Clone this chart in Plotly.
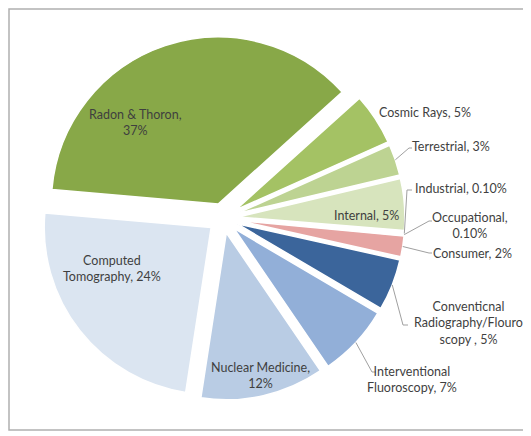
import math
import plotly.graph_objects as go

labels = ["Radon & Thoron", "Cosmic Rays", "Terrestrial", "Internal", "Industrial",
          "Occupational", "Consumer", "Conventional Radiography/Flouroscopy ",
          "Interventional Fluoroscopy", "Nuclear Medicine", "Computed Tomography"]
values = [37, 5, 3, 5, 0.1, 0.1, 2, 5, 7, 12, 24]
display = ["Radon & Thoron,<br>37%", "Cosmic Rays, 5%", "Terrestrial, 3%", "Internal, 5%",
           "Industrial, 0.10%", "Occupational,<br>0.10%", "Consumer, 2%",
           "Conventicnal<br>Radiography/Flouro<br>scopy , 5%",
           "Interventional<br>Fluoroscopy, 7%", "Nuclear Medicine,<br>12%",
           "Computed<br>Tomography, 24%"]

# ---- style / layout ----
W, H = 531, 436
OFF = 8  # page body margin: screen px -> figure px
colors = ["#88a848", "#a4c264", "#bdd392", "#d7e4bd", "#e9efdc", "#f2dcdb",
          "#e6a4a2", "#3b659b", "#92afd8", "#b9cce4", "#dbe5f1"]
PULL = 0.09
ROT = -85  # plotly rotation (deg, clockwise from 12 o'clock)
dom_x = [0.0621, 0.7476]
dom_y = [0.1005, 0.9353]
# label text centres (screen px)
label_pos = [(135, 122), (425, 112), (451, 147), (366, 215), (461, 188), (470, 225),
             (472, 253), (468, 323), (412, 379), (260, 375), (112, 268)]
# leader-line elbow points (screen px) and short horizontal tail; None = no line
elbows = [None, None, (409, 148, 3), None, (407, 190, 5), (429, 221, 3),
          (429, 253, 3), (403, 325, 5), (372, 372, 4), None, None]
FONT = dict(family="Lato", size=12.5, color="#3f3f3f")
LINE = dict(color="#a0a0a0", width=1)

fig = go.Figure(go.Pie(
    labels=labels, values=values, textinfo="none", sort=False,
    direction="clockwise", rotation=ROT, pull=[PULL] * len(values),
    marker=dict(colors=colors, line=dict(color="white", width=1.5)),
    showlegend=False, hoverinfo="label+percent",
    domain=dict(x=dom_x, y=dom_y),
))

# pie geometry (same formula plotly uses) to anchor leader lines to slices
bw = (dom_x[1] - dom_x[0]) * W
bh = (dom_y[1] - dom_y[0]) * H
r = min(bw, bh) / (2 + 2 * PULL)
cx = (dom_x[0] + dom_x[1]) / 2 * W
cy = (1 - (dom_y[0] + dom_y[1]) / 2) * H
total = sum(values)
start = 90 - ROT  # math angle of first slice start


def px(x, y):
    return x / W, 1 - y / H


annotations, shapes = [], []
cum = 0.0
for v, txt, (sx, sy), elb in zip(values, display, label_pos, elbows):
    mid = math.radians(start - (cum + v / 2) / total * 360)
    cum += v
    R = r * (1 + PULL)
    hx = cx + R * math.cos(mid)
    hy = cy - R * math.sin(mid)
    ax_, ay_ = px(sx - OFF, sy - OFF)
    annotations.append(dict(x=ax_, y=ay_, xref="paper", yref="paper", text=txt,
                            xanchor="center", yanchor="middle", showarrow=False,
                            font=FONT, align="center"))
    if elb:
        ex, ey, tail = elb[0] - OFF, elb[1] - OFF, elb[2]
        p0, p1, p2 = px(hx, hy), px(ex, ey), px(ex + tail, ey)
        shapes.append(dict(type="path", xref="paper", yref="paper", line=LINE,
                           path=f"M {p0[0]},{p0[1]} L {p1[0]},{p1[1]} L {p2[0]},{p2[1]}"))

shapes.append(dict(type="rect", xref="paper", yref="paper", x0=1 / W, x1=1.05,
                   y0=1 - (430 - OFF) / H, y1=1 - 1 / H,
                   line=dict(color="#b0b0b0", width=1.5)))

fig.update_layout(
    width=W, height=H, margin=dict(l=0, r=0, t=0, b=0),
    paper_bgcolor="white", plot_bgcolor="white",
    annotations=annotations, shapes=shapes,
)
fig.write_html("out.html")
